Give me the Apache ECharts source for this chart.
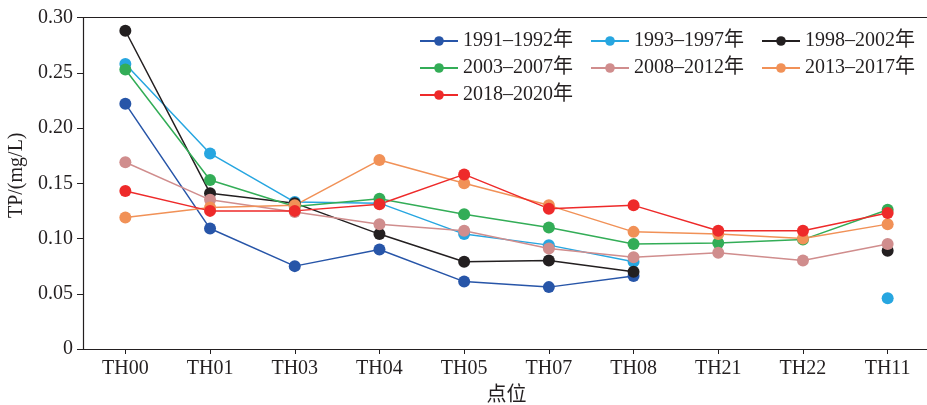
<!DOCTYPE html>
<html>
<head>
<meta charset="utf-8">
<script src="https://cdn.jsdelivr.net/npm/echarts@6/dist/echarts.min.js"></script>
<style>html,body{margin:0;padding:0;background:#fff}#c{width:927px;height:405px}</style>
</head>
<body>
<div id="c"></div>
<script>
const categories = ['TH00','TH01','TH03','TH04','TH05','TH07','TH08','TH21','TH22','TH11'];
const seriesNames = ['1991–1992年','1993–1997年','1998–2002年','2003–2007年','2008–2012年','2013–2017年','2018–2020年'];
const s1991 = [0.222, 0.109, 0.075, 0.090, 0.061, 0.056, 0.066, null, null, null];
const s1993 = [0.258, 0.177, 0.133, 0.132, 0.104, 0.094, 0.079, null, null, 0.046];
const s1998 = [0.288, 0.141, 0.132, 0.104, 0.079, 0.080, 0.070, null, null, 0.089];
const s2003 = [0.253, 0.153, 0.129, 0.136, 0.122, 0.110, 0.095, 0.096, 0.099, 0.126];
const s2008 = [0.169, 0.135, 0.124, 0.113, 0.107, 0.091, 0.083, 0.087, 0.080, 0.095];
const s2013 = [0.119, 0.128, 0.130, 0.171, 0.150, 0.130, 0.106, 0.104, 0.100, 0.113];
const s2018 = [0.143, 0.125, 0.125, 0.131, 0.158, 0.127, 0.130, 0.107, 0.107, 0.123];
const yTicks = [0, 0.05, 0.10, 0.15, 0.20, 0.25, 0.30];

const allData = [s1991, s1993, s1998, s2003, s2008, s2013, s2018];
const colors = ['#2755a8', '#27a6e0', '#231f20', '#33ad57', '#d08d8d', '#f19157', '#ee2a2a'];
const FONT = "'Liberation Serif', 'Times New Roman', 'Noto Sans CJK SC', serif";

const chart = echarts.init(document.getElementById('c'), null, {renderer: 'canvas'});
const legendBase = {
  orient: 'vertical',
  top: 31,
  padding: 0,
  itemWidth: 38,
  itemHeight: 12,
  itemGap: 7,
  textStyle: {fontFamily: FONT, fontSize: 20, color: '#231f20', lineHeight: 20},
  selectedMode: false
};
chart.setOption({
  animation: false,
  color: colors,
  grid: {left: 83, top: 17.5, right: -3, bottom: 56, containLabel: false, outerBoundsMode: 'none'},
  legend: [
    Object.assign({}, legendBase, {left: 419, data: [seriesNames[0], seriesNames[3], seriesNames[6]]}),
    Object.assign({}, legendBase, {left: 590, data: [seriesNames[1], seriesNames[4]]}),
    Object.assign({}, legendBase, {left: 761, data: [seriesNames[2], seriesNames[5]]})
  ],
  xAxis: [{
    type: 'category',
    data: categories,
    boundaryGap: true,
    name: '点位',
    nameLocation: 'middle',
    nameGap: 37,
    nameTextStyle: {fontFamily: FONT, fontSize: 20, color: '#231f20'},
    axisLine: {lineStyle: {color: '#231f20', width: 1.2}},
    axisTick: {show: true, alignWithLabel: true, length: 5, lineStyle: {color: '#231f20'}},
    axisLabel: {fontFamily: FONT, fontSize: 20, color: '#231f20', margin: 10}
  }, {
    type: 'category',
    position: 'top',
    data: categories,
    axisLine: {show: true, lineStyle: {color: '#231f20', width: 1.2}},
    axisTick: {show: false},
    axisLabel: {show: false}
  }],
  yAxis: {
    type: 'value',
    min: 0,
    max: 0.30,
    interval: 0.05,
    name: 'TP/(mg/L)',
    nameLocation: 'middle',
    nameGap: 51,
    nameTextStyle: {fontFamily: FONT, fontSize: 20, color: '#231f20', padding: [0, 0, 0, 16]},
    axisLine: {show: true, lineStyle: {color: '#231f20', width: 1.2}},
    axisTick: {show: true, length: 6, lineStyle: {color: '#231f20'}},
    splitLine: {show: false},
    axisLabel: {
      fontFamily: FONT, fontSize: 20, color: '#231f20', margin: 10,
      formatter: function (v) {
        const t = yTicks.find(function (k) { return Math.abs(k - v) < 1e-9; });
        if (t === undefined) return '';
        return t === 0 ? '0' : t.toFixed(2);
      }
    }
  },
  series: allData.map(function (d, i) {
    return {
      name: seriesNames[i],
      type: 'line',
      data: d,
      symbol: 'circle',
      symbolSize: 12,
      showSymbol: true,
      showAllSymbol: true,
      connectNulls: false,
      lineStyle: {width: 1.5, color: colors[i]},
      itemStyle: {color: colors[i]}
    };
  })
});
</script>
</body>
</html>
